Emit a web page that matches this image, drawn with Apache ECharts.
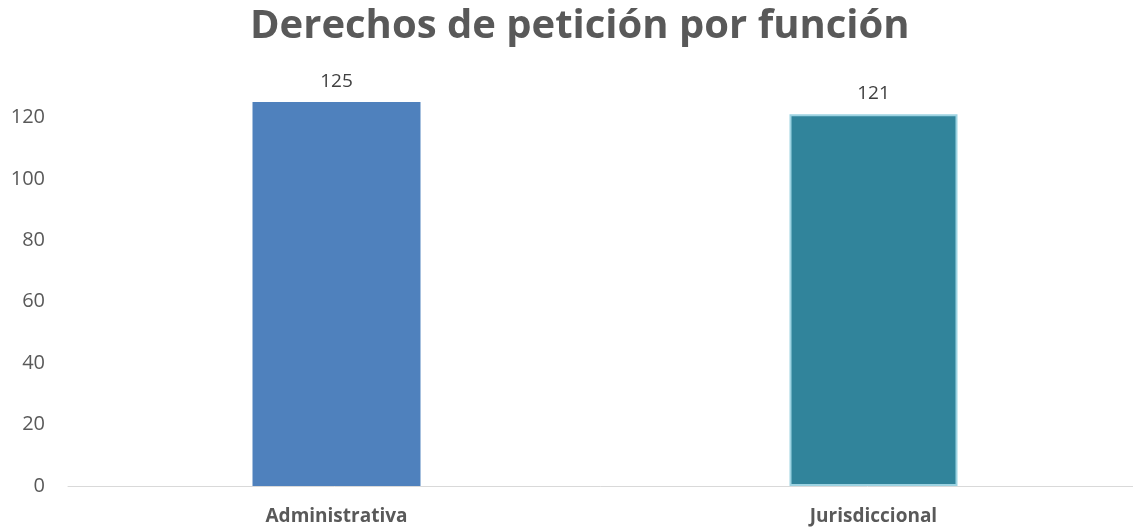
<!DOCTYPE html>
<html>
<head>
<meta charset="utf-8">
<script src="https://cdn.jsdelivr.net/npm/echarts@6/dist/echarts.min.js"></script>
<style>
  html, body { margin: 0; padding: 0; background: #fff; }
  #chart { width: 1133px; height: 527px; }
</style>
</head>
<body>
<div id="chart"></div>
<script>
const categories = ['Administrativa', 'Jurisdiccional']
const values = [125, 121]
const barColors = ['#4f81bd', '#31849b']
const barBorders = ['#4f81bd', '#9dd3e2']

const chart = echarts.init(document.getElementById('chart'))

const option = {
  backgroundColor: '#ffffff',
  animation: false,
  title: {
    text: 'Derechos de petición por función',
    left: 245,
    top: 2,
    textStyle: {
      fontFamily: 'Open Sans',
      fontSize: 40,
      fontWeight: 'bold',
      color: '#595959'
    }
  },
  grid: {
    left: 68,
    right: -9,
    top: 56,
    bottom: 41,
    outerBoundsMode: 'none'
  },
  xAxis: {
    type: 'category',
    data: categories,
    axisLine: { lineStyle: { color: '#d9d9d9', width: 1 } },
    axisTick: { show: false },
    axisLabel: {
      margin: 21,
      fontFamily: 'Open Sans',
      fontSize: 19,
      fontWeight: 'bold',
      color: '#595959'
    }
  },
  yAxis: {
    type: 'value',
    min: 0,
    max: 140,
    interval: 20,
    axisLine: { show: false },
    axisTick: { show: false },
    splitLine: { show: false },
    axisLabel: {
      showMaxLabel: false,
      margin: 23,
      fontFamily: 'Open Sans',
      fontSize: 20,
      color: '#595959'
    }
  },
  series: [
    {
      type: 'bar',
      barWidth: 168,
      data: values.map((v, i) => ({
        value: v,
        itemStyle: {
          color: barColors[i],
          borderColor: barBorders[i],
          borderWidth: i === 1 ? 2 : 0
        }
      })),
      label: {
        show: true,
        position: 'top',
        distance: 11,
        fontFamily: 'Open Sans',
        fontSize: 19,
        color: '#404040'
      }
    }
  ]
}

chart.setOption(option)
</script>
</body>
</html>
